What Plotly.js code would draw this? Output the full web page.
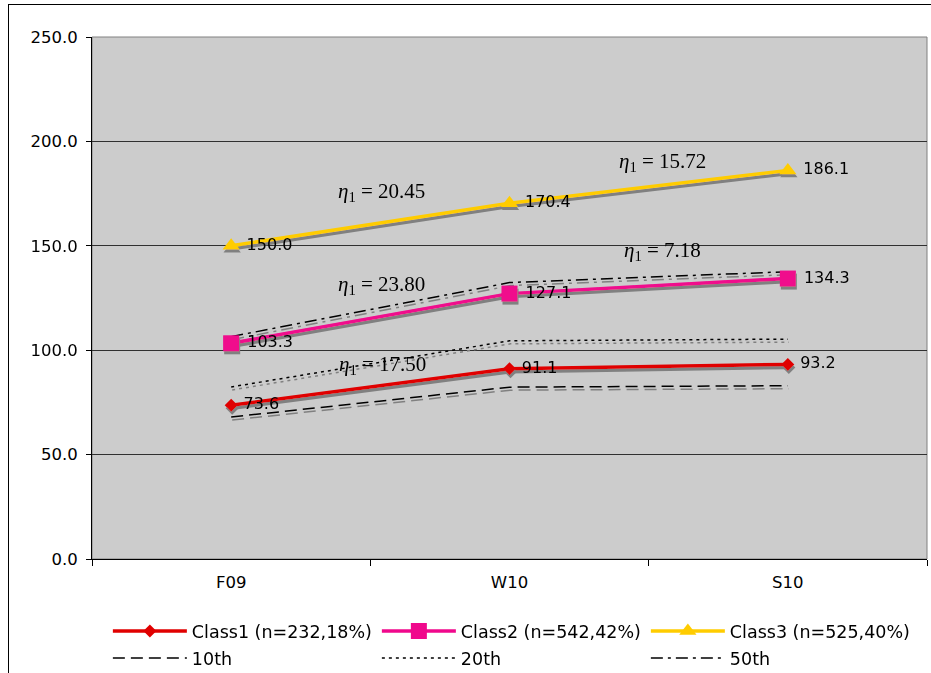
<!DOCTYPE html>
<html><head><meta charset="utf-8">
<script src="https://cdn.plot.ly/plotly-3.0.1.min.js"></script>
<style>
html,body{margin:0;padding:0;background:#fff;overflow:hidden;}
#chart{width:931px;height:673px;}
#frame{position:absolute;left:8px;top:4px;width:1000px;height:1000px;border-left:1px solid #000;border-top:1px solid #000;pointer-events:none;}
</style></head><body>
<svg width="0" height="0" style="position:absolute">
 <defs>
  <filter id="shadow" filterUnits="userSpaceOnUse" x="-2000" y="-2000" width="6000" height="6000">
   <feDropShadow dx="1" dy="3" stdDeviation="0" flood-color="#808080" flood-opacity="1"/>
  </filter>
 </defs>
</svg>
<div id="chart"></div><div id="frame"></div>
<script>
// ---- data ----
const terms = ['F09', 'W10', 'S10'];
const class1 = [73.6, 91.1, 93.2];
const class2 = [103.3, 127.1, 134.3];
const class3 = [150.0, 170.4, 186.1];
const p10 = [68.0, 82.3, 83.0];
const p20 = [82.4, 104.5, 105.3];
const p50 = [106.5, 132.4, 137.6];
const classNames = ['Class1 (n=232,18%)', 'Class2 (n=542,42%)', 'Class3 (n=525,40%)'];
const pctNames = ['10th', '20th', '50th'];
const etaLabels = ['20.45', '15.72', '23.80', '7.18', '17.50'];

const FONT = 'DejaVu Sans, Verdana, sans-serif';

function pctTrace(y, name, dash) {
  return {x: terms, y: y, name: name, type: 'scatter', mode: 'lines', legend: 'legend2',
    line: {color: '#000000', width: 1.5, dash: dash}, hoverinfo: 'skip'};
}
function classTrace(y, name, color, symbol, size) {
  return {x: terms, y: y, name: name, type: 'scatter', mode: 'lines+markers+text', legend: 'legend',
    line: {color: color, width: 3.5},
    marker: {color: color, symbol: symbol, size: size, line: {width: 0}},
    texttemplate: ' %{y:.1f}', textposition: 'middle right',
    textfont: {family: FONT, size: 16, color: '#000'},
    cliponaxis: false, hoverinfo: 'skip'};
}

const data = [
  pctTrace(p10, pctNames[0], '12px,6px'),
  pctTrace(p20, pctNames[1], '3px,4px'),
  pctTrace(p50, pctNames[2], '12px,5px,3px,5px'),
  classTrace(class1, classNames[0], '#E00000', 'diamond', 10),
  classTrace(class2, classNames[1], '#F0088C', 'square', 16),
  classTrace(class3, classNames[2], '#FFCC00', 'triangle-up', 15)
];

function eta(v, x, y) {
  return {x: x, y: y, xref: 'x', yref: 'y', showarrow: false,
    text: '<i>η</i><sub>1</sub> = ' + v,
    font: {family: 'Liberation Serif, Times New Roman, serif', size: 21, color: '#000'}};
}

const legendBase = {orientation: 'h', xanchor: 'left', yanchor: 'middle',
  entrywidth: 180, entrywidthmode: 'pixels', itemwidth: 74,
  font: {family: FONT, size: 17.5, color: '#000'}, bgcolor: 'rgba(0,0,0,0)',
  traceorder: 'normal'};

const layout = {
  width: 931, height: 673,
  margin: {l: 92, r: 4, t: 37, b: 114, autoexpand: false},
  paper_bgcolor: '#ffffff', plot_bgcolor: '#CCCCCC',
  font: {family: FONT, size: 16, color: '#000'},
  showlegend: true,
  xaxis: {type: 'category', range: [-0.5, 2.5], tickson: 'boundaries',
    ticks: 'outside', ticklen: 6, tickcolor: '#000', showgrid: false,
    showline: true, linecolor: '#000', linewidth: 1, zeroline: false,
    ticklabelstandoff: 8,
    tickfont: {family: FONT, size: 16.5, color: '#000'}, fixedrange: true},
  yaxis: {range: [0, 250], dtick: 50, tickformat: '.1f', ticks: 'outside', ticklen: 5,
    tickcolor: '#000', showgrid: true, gridcolor: '#303030', gridwidth: 1,
    showline: true, linecolor: '#000', linewidth: 1, zeroline: false,
    ticklabelstandoff: 5,
    tickfont: {family: FONT, size: 16.5, color: '#000'}, fixedrange: true},
  legend: Object.assign({}, legendBase, {x: 0.019, y: -0.138}),
  legend2: Object.assign({}, legendBase, {x: 0.019, y: -0.19}),
  shapes: [{type: 'rect', xref: 'paper', yref: 'paper', x0: 0, x1: 1, y0: 0, y1: 1,
    line: {color: '#808080', width: 1}, layer: 'below'}],
  annotations: [
    eta(etaLabels[0], 0.54, 176),
    eta(etaLabels[1], 1.55, 190),
    eta(etaLabels[2], 0.54, 131),
    eta(etaLabels[3], 1.55, 147.5),
    eta(etaLabels[4], 0.545, 93)
  ]
};

Plotly.newPlot('chart', data, layout, {displayModeBar: false, staticPlot: true}).then(function () {
  document.querySelectorAll('.scatterlayer .trace .js-line, .scatterlayer .trace .points').forEach(function (el) {
    el.setAttribute('filter', 'url(#shadow)');
  });
});
</script>
</body></html>
